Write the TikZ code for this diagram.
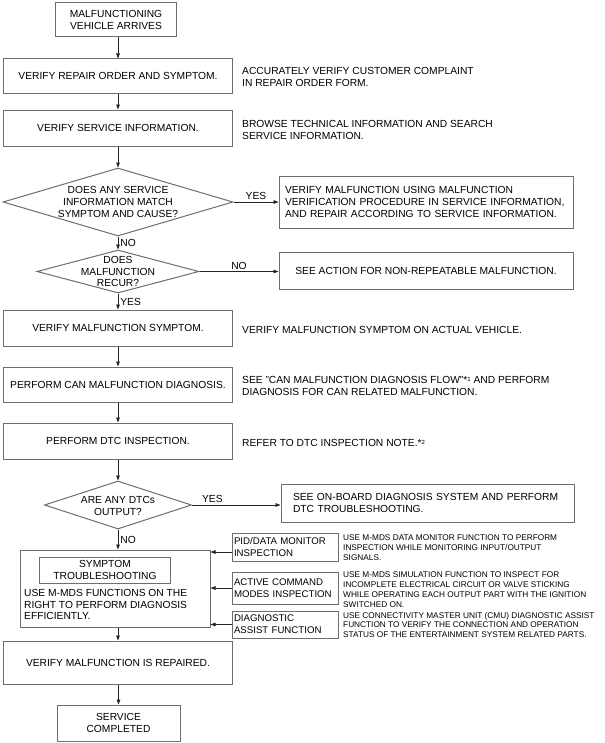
\documentclass[tikz,border=0pt]{standalone}
\usepackage{fontspec}
\setmainfont{Liberation Sans}
\usetikzlibrary{shapes.geometric,arrows.meta}
\definecolor{boxc}{RGB}{110,110,110}
\definecolor{arrc}{RGB}{35,35,35}
\newcommand\supn[1]{\raisebox{2.5bp}{\fontsize{6}{6}\selectfont #1}}
\begin{document}
\begin{tikzpicture}[x=1bp,y=-1bp,
  mf/.style={font=\fontsize{10.3}{12}\selectfont},
  mfb/.style={font=\fontsize{10.3}{11.5}\selectfont},
  sbf/.style={font=\fontsize{9.7}{12}\selectfont},
  sf/.style={font=\fontsize{8.3}{10}\selectfont},
  box/.style={draw=boxc, line width=1bp, inner sep=0pt, mf, align=center},
  sidebox/.style={draw=boxc, line width=1bp, inner sep=0pt, sbf, align=left, text width=102bp, minimum width=106bp},
  dia/.style={draw=boxc, line width=1bp, diamond, inner sep=0pt},
  dtext/.style={mf, align=center, inner sep=0pt},
  arr/.style={draw=arrc, line width=0.8bp, -{Triangle[length=5bp,width=3.6bp]}},
  lbl/.style={mf, inner sep=2bp},
  note/.style={mf, align=left, anchor=west, inner sep=0pt},
  snote/.style={sf, align=left, anchor=west, inner sep=0pt}]

\useasboundingbox[fill=white] (0,0) rectangle (605,743);

% main column
\node[box, minimum width=121bp, minimum height=34bp] (start) at (116,20) {MALFUNCTIONING\\VEHICLE ARRIVES};
\node[box, minimum width=228bp, minimum height=34bp] (b2) at (118,76) {VERIFY REPAIR ORDER AND SYMPTOM.};
\node[note] (n2) at (242,77) {ACCURATELY VERIFY CUSTOMER COMPLAINT\\IN REPAIR ORDER FORM.};
\node[box, minimum width=228bp, minimum height=36bp] (b3) at (118,128) {VERIFY SERVICE INFORMATION.};
\node[note] (n3) at (242,130) {BROWSE TECHNICAL INFORMATION AND SEARCH\\SERVICE INFORMATION.};

\node[dia, minimum width=230bp, minimum height=68bp] (d1) at (118,202) {};
\node[dtext] (d1t) at (118,202) {DOES ANY SERVICE\\INFORMATION MATCH\\SYMPTOM AND CAUSE?};
\node[box, minimum width=294bp, minimum height=52bp, text width=282bp, align=left] (bA) at (426,202)
  {VERIFY MALFUNCTION USING MALFUNCTION\\VERIFICATION PROCEDURE IN SERVICE INFORMATION,\\AND REPAIR ACCORDING TO SERVICE INFORMATION.};

\node[dia, minimum width=162bp, minimum height=43bp] (d2) at (118,271.5) {};
\node[dtext] (d2t) at (118,271.5) {DOES\\MALFUNCTION\\RECUR?};
\node[box, minimum width=294bp, minimum height=37bp] (bB) at (426,270.5) {SEE ACTION FOR NON-REPEATABLE MALFUNCTION.};

\node[box, minimum width=228bp, minimum height=36bp] (b4) at (118,328) {VERIFY MALFUNCTION SYMPTOM.};
\node[note] (n4) at (242,330) {VERIFY MALFUNCTION SYMPTOM ON ACTUAL VEHICLE.};
\node[box, minimum width=228bp, minimum height=35bp] (b5) at (118,384.5) {PERFORM CAN MALFUNCTION DIAGNOSIS.};
\node[note] (n5) at (242,386) {SEE "CAN MALFUNCTION DIAGNOSIS FLOW"*\supn{1} AND PERFORM\\DIAGNOSIS FOR CAN RELATED MALFUNCTION.};
\node[box, minimum width=228bp, minimum height=36bp] (b6) at (118,441) {PERFORM DTC INSPECTION.};
\node[note] (n6) at (242,443) {REFER TO DTC INSPECTION NOTE.*\supn{2}};

\node[dia, minimum width=147bp, minimum height=48bp] (d3) at (118,505) {};
\node[dtext] (d3t) at (118,506) {ARE ANY DTCs\\OUTPUT?};
\node[box, minimum width=293bp, minimum height=38bp, text width=269bp, align=left] (bC) at (427.5,503)
  {SEE ON-BOARD DIAGNOSIS SYSTEM AND PERFORM\\DTC TROUBLESHOOTING.};

% symptom troubleshooting block
\node[box, minimum width=189bp, minimum height=77bp] (big) at (115.5,588.5) {};
\node[box, minimum width=130bp, minimum height=26bp] (inner) at (105,570) {SYMPTOM\\TROUBLESHOOTING};
\node[mfb, align=left, anchor=west, inner sep=0pt] (bigt) at (24,604.5) {USE M-MDS FUNCTIONS ON THE\\RIGHT TO PERFORM DIAGNOSIS\\EFFICIENTLY.};

\node[sidebox, minimum height=28bp] (pid) at (285,547) {PID/DATA MONITOR\\INSPECTION};
\node[sidebox, minimum height=32bp] (act) at (285,588) {ACTIVE COMMAND\\MODES INSPECTION};
\node[sidebox, minimum height=27bp] (diag) at (285,624.5) {DIAGNOSTIC\\ASSIST FUNCTION};
\node[snote] (sn1) at (343,548) {USE M-MDS DATA MONITOR FUNCTION TO PERFORM\\INSPECTION WHILE MONITORING INPUT/OUTPUT\\SIGNALS.};
\node[snote] (sn2) at (343,590) {USE M-MDS SIMULATION FUNCTION TO INSPECT FOR\\INCOMPLETE ELECTRICAL CIRCUIT OR VALVE STICKING\\WHILE OPERATING EACH OUTPUT PART WITH THE IGNITION\\SWITCHED ON.};
\node[snote] (sn3) at (343,625) {USE CONNECTIVITY MASTER UNIT (CMU) DIAGNOSTIC ASSIST\\FUNCTION TO VERIFY THE CONNECTION AND OPERATION\\STATUS OF THE ENTERTAINMENT SYSTEM RELATED PARTS.};

\node[box, minimum width=228bp, minimum height=43bp] (b7) at (118,662.5) {VERIFY MALFUNCTION IS REPAIRED.};
\node[box, minimum width=123bp, minimum height=36bp] (end) at (118.5,723) {SERVICE\\COMPLETED};

% connectors
\draw[arr] (start.south -| b2.north) -- (b2.north);
\draw[arr] (b2) -- (b3);
\draw[arr] (b3) -- (d1);
\draw[arr] (d1.east) -- node[lbl, above, pos=0.5] {YES} (bA.west);
\draw[arr] (d1.south) -- node[lbl, right, pos=0.5] {NO} (d2.north);
\draw[arr] (d2.east) -- node[lbl, above, pos=0.5] {NO} (d2.east -| bB.west);
\draw[arr] (d2.south) -- node[lbl, right, pos=0.5] {YES} (b4.north);
\draw[arr] (b4) -- (b5);
\draw[arr] (b5) -- (b6);
\draw[arr] (b6) -- (d3);
\draw[arr] (d3.east) -- node[lbl, above, pos=0.23] {YES} (d3.east -| bC.west);
\draw[arr] (d3.south) -- node[lbl, right, pos=0.5] {NO} (d3.south |- big.north);
\draw[arr] ([yshift=-5bp]pid.west) -- ([yshift=-5bp]pid.west -| big.east);
\draw[arr] (act.west) -- (act.west -| big.east);
\draw[arr] (diag.west) -- (diag.west -| big.east);
\draw[arr] (b7.north |- big.south) -- (b7.north);
\draw[arr] (b7.south -| end.north) -- (end.north);
\end{tikzpicture}
\end{document}
